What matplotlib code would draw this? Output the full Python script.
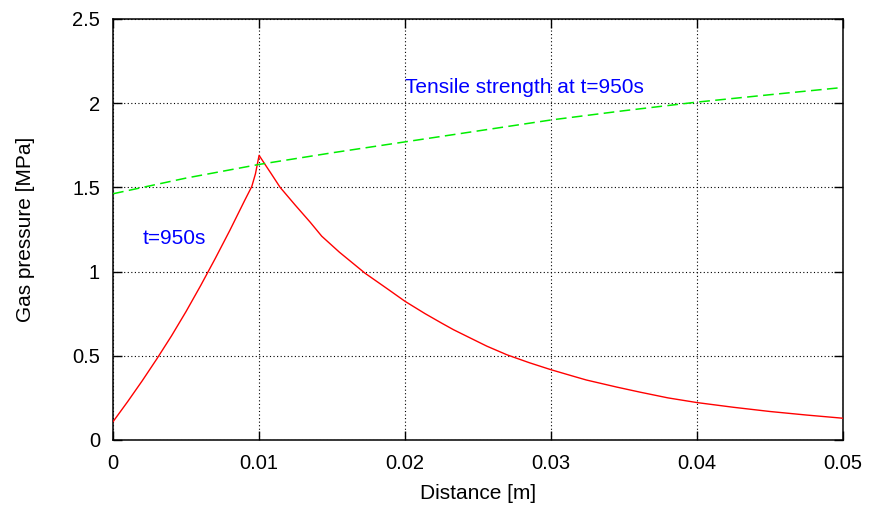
import matplotlib
matplotlib.use("Agg")
import matplotlib.pyplot as plt

plt.rcParams['font.family'] = ['Liberation Sans', 'DejaVu Sans']

# Gas pressure profile at t=950s
distance = [0.0, 0.001, 0.002, 0.003, 0.004, 0.005, 0.006, 0.007, 0.008,
            0.009, 0.0095, 0.00975, 0.01,
            0.0104, 0.0108, 0.01144, 0.01247, 0.0135, 0.01429, 0.0155,
            0.01726, 0.01886, 0.02, 0.02137, 0.0225, 0.02331, 0.0245,
            0.0256, 0.027, 0.0285, 0.03, 0.0315, 0.03242, 0.0345, 0.03609,
            0.038, 0.04, 0.0425, 0.045, 0.0475, 0.05]
pressure = [0.109, 0.228, 0.352, 0.482, 0.618, 0.763, 0.917, 1.078, 1.245,
            1.42, 1.505, 1.58, 1.69,
            1.637, 1.585, 1.50, 1.395, 1.293, 1.21, 1.115,
            0.99, 0.893, 0.823, 0.75, 0.694, 0.655, 0.604,
            0.557, 0.505, 0.459, 0.417, 0.379, 0.356, 0.314, 0.284,
            0.25, 0.222, 0.194, 0.169, 0.148, 0.129]

# Tensile strength of the material at t=950s
ts_distance = [0.0, 0.005, 0.01, 0.015, 0.02, 0.025, 0.03, 0.035, 0.04, 0.045, 0.05]
ts_strength = [1.462, 1.555, 1.636, 1.705, 1.77, 1.835, 1.90, 1.955, 2.006, 2.05, 2.093]

x_ticks = [0, 0.01, 0.02, 0.03, 0.04, 0.05]
x_tick_labels = ["0", "0.01", "0.02", "0.03", "0.04", "0.05"]
y_ticks = [0, 0.5, 1, 1.5, 2, 2.5]
y_tick_labels = ["0", "0.5", "1", "1.5", "2", "2.5"]

fig = plt.figure(figsize=(8.7, 5.11), dpi=100)
ax = fig.add_axes([0.130, 0.139, 0.839, 0.824])

ax.plot(distance, pressure, color='#ff0000', lw=1.0, zorder=3)
ax.plot(ts_distance, ts_strength, color='#00ee00', lw=1.1,
        dashes=(7, 3.5), zorder=3)

ax.text(0.02, 2.095, "Tensile strength at t=950s", color='#0000ff',
        fontsize=15, ha='left', va='center')
ax.text(0.00205, 1.194, "t=950s", color='#0000ff',
        fontsize=15, ha='left', va='center')

ax.set_xlim(0, 0.05)
ax.set_ylim(0, 2.5)
ax.set_xticks(x_ticks)
ax.set_xticklabels(x_tick_labels)
ax.set_yticks(y_ticks)
ax.set_yticklabels(y_tick_labels)

ax.grid(True, color='black', linestyle=(0, (1, 2.2)), lw=0.8)
ax.tick_params(direction='in', length=6.5, width=1.0, labelsize=14.5,
               top=True, right=True, colors='black')
ax.tick_params(axis='y', pad=9.5)
ax.tick_params(axis='x', pad=10)
for s in ax.spines.values():
    s.set_linewidth(1.1)

ax.set_xlabel("Distance [m]", fontsize=15, va='center')
ax.xaxis.set_label_coords(0.5, -0.126)
ax.set_ylabel("Gas pressure [MPa]", fontsize=15, va='center')
ax.yaxis.set_label_coords(-0.1205, 0.5)

fig.savefig("out.png", dpi=100)
